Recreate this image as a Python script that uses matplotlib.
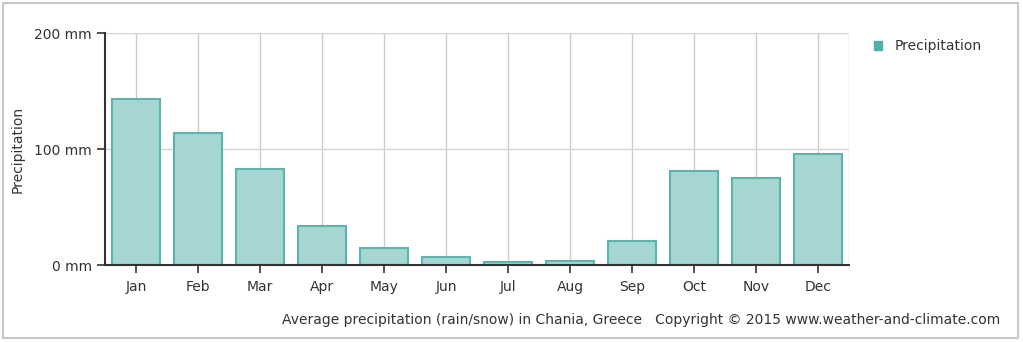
import matplotlib.pyplot as plt
from matplotlib.patches import Rectangle

months = ["Jan", "Feb", "Mar", "Apr", "May", "Jun",
          "Jul", "Aug", "Sep", "Oct", "Nov", "Dec"]
precip_mm = [143, 114, 83, 34, 15, 7, 2.5, 3.5, 21, 81, 75, 96]
y_ticks = [0, 100, 200]
y_tick_labels = ["0 mm", "100 mm", "200 mm"]

BAR_FILL = "#a6d6d2"
BAR_EDGE = "#5db3ad"
TEXT = "#333333"
FS = 10

plt.rcParams["font.family"] = ["DejaVu Sans"]

fig = plt.figure(figsize=(10.23, 3.42), dpi=100)
ax = fig.add_axes([0.1026, 0.2251, 0.7273, 0.6784])

x = range(len(months))
ax.bar(x, precip_mm, width=0.78, color=BAR_FILL, edgecolor=BAR_EDGE,
       linewidth=1.5, zorder=2, label="Precipitation")

ax.set_xlim(-0.5, 11.5)
ax.set_ylim(0, 200)
ax.set_xticks(list(x))
ax.set_xticklabels(months, fontsize=FS, color=TEXT)
ax.set_yticks(y_ticks)
ax.set_yticklabels(y_tick_labels, fontsize=FS, color=TEXT)
ax.tick_params(axis="both", length=6, width=1.2, color="#333333", direction="out")
ax.tick_params(axis="x", pad=5)

# grid: vertical line through every month, horizontal at 100 and 200
for xi in x:
    ax.axvline(xi, color="#cccccc", linewidth=1, zorder=1)
ax.axvline(11.5, color="#cccccc", linewidth=1, zorder=1)
for yv in y_ticks[1:]:
    ax.axhline(yv, color="#d4d4d4", linewidth=1, zorder=1)

for side in ("top", "right"):
    ax.spines[side].set_visible(False)
for side in ("left", "bottom"):
    ax.spines[side].set_color("#333333")
    ax.spines[side].set_linewidth(1.5)
    ax.spines[side].set_zorder(3)

ax.set_ylabel("Precipitation", fontsize=FS, color=TEXT)
ax.yaxis.set_label_coords(-0.108, 0.5)

leg = fig.legend(handles=[Rectangle((0, 0), 1, 1, color="#4fb0a8")],
                 labels=["Precipitation"], loc="upper left",
                 bbox_to_anchor=(0.842, 0.922), frameon=False,
                 handlelength=0.6, handleheight=0.6, handletextpad=0.9,
                 fontsize=FS)
for t in leg.get_texts():
    t.set_color(TEXT)

fig.text(0.978, 0.045,
         "Average precipitation (rain/snow) in Chania, Greece   "
         "Copyright \u00a9 2015 www.weather-and-climate.com",
         ha="right", va="bottom", fontsize=FS, color=TEXT)

# light frame around the whole chart
fig.patches.append(Rectangle((0.003, 0.012), 0.992, 0.978, transform=fig.transFigure,
                             fill=False, edgecolor="#c8c8c8", linewidth=1.5))

fig.savefig("out.png", dpi=100)
